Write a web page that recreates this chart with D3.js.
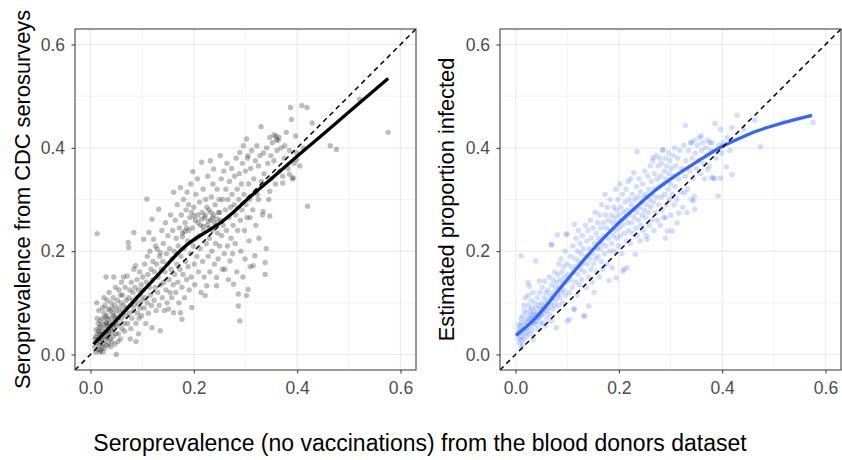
<!DOCTYPE html>
<html><head><meta charset="utf-8">
<script src="https://cdn.jsdelivr.net/npm/d3@7"></script>
<style>body{margin:0;background:#fff} text{font-family:"Liberation Sans",Arial,sans-serif}</style>
</head><body><svg id="c" width="842" height="460"></svg>
<script>
const tickValues=[0,0.2,0.4,0.6];
const tickLabels=["0.0","0.2","0.4","0.6"];
const minorTicks=[0.1,0.3,0.5];
const yTitles=["Seroprevalence from CDC serosurveys","Estimated proportion infected"];
const xTitle="Seroprevalence (no vaccinations) from the blood donors dataset";

const cdcPoints=[
[0.008,0.015],[0.010,0.005],[0.012,0.022],[0.010,0.035],[0.014,0.028],[0.015,0.010],[0.016,0.045],[0.018,0.018],[0.018,0.032],[0.020,0.008],[0.012,0.100],[0.013,0.234],[0.015,0.060],[0.017,0.052],[0.019,0.040],[0.020,0.025],[0.011,0.048],[0.013,0.070],[0.016,0.085],[0.019,0.065],[0.009,0.030],[0.020,0.055],[0.014,0.040],[0.018,0.005],
[0.021,0.030],[0.022,0.015],[0.022,0.045],[0.023,0.070],[0.024,0.038],[0.025,0.022],[0.025,0.058],[0.026,0.080],[0.027,0.035],[0.027,0.012],[0.028,0.050],[0.028,0.095],[0.029,0.028],[0.030,0.062],[0.030,0.150],[0.031,0.042],[0.031,0.018],[0.032,0.075],[0.032,0.105],[0.033,0.032],[0.033,0.055],[0.034,0.088],[0.034,0.045],[0.035,0.020],[0.023,0.090],[0.026,0.110],[0.029,0.072],[0.024,0.005],[0.031,0.060],[0.034,0.068],
[0.036,0.040],[0.036,0.120],[0.037,0.060],[0.038,0.030],[0.038,0.085],[0.039,0.050],[0.040,0.100],[0.040,0.070],[0.041,0.025],[0.042,0.045],[0.042,0.090],[0.043,0.060],[0.044,0.035],[0.044,0.110],[0.045,0.150],[0.045,0.075],[0.046,0.050],[0.047,0.020],[0.047,0.095],[0.048,0.065],[0.048,0.130],[0.049,0.040],[0.050,0.000],[0.050,0.085],[0.039,0.015],[0.043,0.080],[0.046,0.058],[0.049,0.072],
[0.051,0.055],[0.052,0.105],[0.053,0.070],[0.054,0.040],[0.055,0.090],[0.055,0.125],[0.056,0.060],[0.057,0.080],[0.058,0.030],[0.059,0.100],[0.060,0.140],[0.060,0.070],[0.061,0.050],[0.062,0.115],[0.063,0.085],[0.064,0.095],[0.065,0.060],[0.066,0.045],[0.067,0.130],[0.068,0.075],[0.069,0.105],[0.070,0.090],[0.053,0.025],[0.058,0.115],[0.064,0.150],
[0.071,0.152],[0.072,0.060],[0.073,0.217],[0.074,0.207],[0.074,0.110],[0.075,0.080],[0.076,0.125],[0.077,0.095],[0.078,0.050],[0.079,0.140],[0.080,0.070],[0.081,0.105],[0.082,0.120],[0.083,0.085],[0.084,0.236],[0.084,0.165],[0.085,0.095],[0.086,0.130],[0.087,0.172],[0.088,0.060],[0.089,0.110],[0.090,0.145],[0.091,0.080],[0.092,0.100],[0.093,0.125],[0.094,0.070],[0.095,0.160],[0.096,0.090],[0.097,0.115],[0.098,0.135],[0.099,0.075],[0.100,0.105],[0.088,0.025],[0.077,0.030],[0.093,0.040],
[0.101,0.150],[0.102,0.125],[0.103,0.223],[0.104,0.090],[0.105,0.175],[0.106,0.110],[0.107,0.060],[0.108,0.140],[0.109,0.301],[0.110,0.190],[0.110,0.100],[0.111,0.155],[0.112,0.080],[0.113,0.236],[0.114,0.130],[0.115,0.200],[0.116,0.115],[0.117,0.165],[0.118,0.095],[0.119,0.262],[0.119,0.052],[0.120,0.145],[0.121,0.180],[0.122,0.223],[0.123,0.105],[0.124,0.160],[0.125,0.130],[0.126,0.210],[0.127,0.085],[0.128,0.175],[0.129,0.204],[0.130,0.120],
[0.131,0.150],[0.132,0.281],[0.133,0.095],[0.134,0.190],[0.135,0.197],[0.135,0.046],[0.136,0.135],[0.137,0.165],[0.138,0.240],[0.139,0.110],[0.140,0.180],[0.141,0.215],[0.142,0.140],[0.143,0.085],[0.144,0.160],[0.145,0.255],[0.146,0.125],[0.147,0.195],[0.148,0.100],[0.149,0.175],[0.150,0.230],[0.151,0.088],[0.152,0.145],[0.153,0.205],[0.154,0.120],[0.155,0.270],[0.156,0.165],[0.157,0.110],[0.158,0.185],[0.159,0.240],[0.160,0.135],
[0.161,0.314],[0.161,0.081],[0.162,0.200],[0.163,0.155],[0.164,0.260],[0.165,0.120],[0.166,0.225],[0.167,0.175],[0.168,0.290],[0.169,0.140],[0.170,0.210],[0.171,0.100],[0.172,0.245],[0.173,0.165],[0.174,0.323],[0.174,0.081],[0.175,0.190],[0.176,0.270],[0.177,0.068],[0.177,0.130],[0.178,0.235],[0.179,0.155],[0.180,0.300],[0.181,0.205],[0.182,0.110],[0.183,0.255],[0.184,0.180],[0.185,0.280],[0.186,0.145],[0.187,0.314],[0.188,0.220],[0.189,0.170],[0.190,0.240],
[0.191,0.125],[0.192,0.265],[0.193,0.195],[0.194,0.330],[0.195,0.150],[0.196,0.091],[0.197,0.245],[0.198,0.354],[0.199,0.210],[0.200,0.285],[0.201,0.175],[0.202,0.135],[0.203,0.260],[0.204,0.310],[0.205,0.225],[0.206,0.190],[0.207,0.340],[0.208,0.270],[0.209,0.160],[0.210,0.230],[0.211,0.295],[0.212,0.205],[0.213,0.250],[0.214,0.120],[0.215,0.372],[0.216,0.275],[0.217,0.180],[0.218,0.320],[0.219,0.240],[0.220,0.150],
[0.221,0.265],[0.222,0.114],[0.223,0.300],[0.224,0.215],[0.225,0.133],[0.226,0.250],[0.227,0.345],[0.228,0.190],[0.229,0.280],[0.230,0.225],[0.231,0.160],[0.232,0.375],[0.233,0.260],[0.234,0.305],[0.235,0.200],[0.236,0.240],[0.237,0.330],[0.238,0.359],[0.239,0.270],[0.240,0.175],[0.241,0.290],[0.242,0.215],[0.243,0.250],[0.244,0.149],[0.244,0.133],[0.245,0.320],[0.246,0.235],[0.247,0.185],[0.248,0.275],[0.249,0.300],[0.250,0.210],
[0.251,0.385],[0.252,0.260],[0.253,0.340],[0.254,0.230],[0.255,0.165],[0.256,0.300],[0.257,0.250],[0.258,0.355],[0.259,0.195],[0.260,0.165],[0.261,0.280],[0.262,0.320],[0.263,0.240],[0.264,0.370],[0.265,0.210],[0.266,0.300],[0.267,0.145],[0.268,0.265],[0.269,0.335],[0.270,0.181],[0.271,0.285],[0.272,0.225],[0.273,0.360],[0.274,0.310],[0.275,0.195],[0.276,0.250],[0.277,0.136],[0.278,0.290],[0.279,0.345],[0.280,0.215],
[0.281,0.270],[0.282,0.380],[0.283,0.160],[0.284,0.320],[0.285,0.240],[0.286,0.094],[0.286,0.117],[0.287,0.300],[0.288,0.350],[0.289,0.065],[0.289,0.391],[0.290,0.260],[0.291,0.200],[0.292,0.330],[0.293,0.280],[0.294,0.370],[0.295,0.150],[0.296,0.404],[0.297,0.310],[0.298,0.240],[0.299,0.185],[0.300,0.355],[0.301,0.290],[0.302,0.417],[0.302,0.114],[0.303,0.265],[0.304,0.380],[0.305,0.385],[0.305,0.126],[0.306,0.330],[0.307,0.220],[0.308,0.300],[0.309,0.170],[0.310,0.360],
[0.312,0.395],[0.314,0.280],[0.315,0.172],[0.316,0.340],[0.318,0.191],[0.319,0.375],[0.320,0.250],[0.322,0.404],[0.323,0.310],[0.325,0.365],[0.326,0.225],[0.328,0.385],[0.330,0.441],[0.331,0.335],[0.333,0.270],[0.335,0.390],[0.336,0.350],[0.338,0.155],[0.338,0.178],[0.340,0.205],[0.341,0.400],[0.343,0.370],[0.345,0.300],[0.347,0.420],[0.349,0.385],[0.350,0.340],
[0.352,0.410],[0.355,0.375],[0.358,0.330],[0.359,0.423],[0.361,0.395],[0.363,0.414],[0.366,0.355],[0.369,0.400],[0.372,0.345],[0.375,0.380],[0.376,0.404],[0.379,0.430],[0.382,0.360],[0.385,0.395],[0.387,0.478],[0.389,0.455],[0.391,0.340],[0.394,0.370],[0.397,0.423],[0.399,0.390],
[0.409,0.482],[0.419,0.478],[0.420,0.287],[0.429,0.448],[0.464,0.404],[0.476,0.397],[0.521,0.494],[0.576,0.430],[0.360,0.416],[0.365,0.420],[0.355,0.425],[0.399,0.377],[0.392,0.342],[0.372,0.332],[0.347,0.316],[0.385,0.349],[0.325,0.300],[0.334,0.277],[0.347,0.268],[0.309,0.265],[0.412,0.400],[0.405,0.365],
[0.215,0.262],[0.222,0.270],[0.228,0.258],[0.233,0.275],[0.236,0.265],[0.240,0.255],[0.225,0.285],[0.218,0.248],[0.230,0.245],[0.208,0.255],[0.245,0.262],[0.250,0.275],[0.195,0.275],[0.200,0.268],[0.190,0.290],[0.182,0.238],[0.178,0.228],[0.186,0.245]
];

const estPoints=[
[0.005,0.040],[0.006,0.030],[0.007,0.048],[0.008,0.022],[0.009,0.055],[0.010,0.035],[0.011,0.013],[0.011,0.191],[0.012,0.062],[0.013,0.042],[0.014,0.019],[0.014,0.075],[0.015,0.050],[0.016,0.030],[0.017,0.085],[0.018,0.058],[0.019,0.040],[0.020,0.068],[0.008,0.045],[0.012,0.028],[0.016,0.095],[0.019,0.110],[0.010,0.070],[0.006,0.058],
[0.021,0.050],[0.022,0.035],[0.022,0.080],[0.023,0.062],[0.024,0.139],[0.024,0.045],[0.025,0.095],[0.026,0.070],[0.027,0.132],[0.027,0.055],[0.028,0.085],[0.029,0.040],[0.030,0.075],[0.030,0.105],[0.031,0.060],[0.032,0.090],[0.033,0.048],[0.034,0.029],[0.034,0.120],[0.035,0.070],[0.036,0.082],[0.037,0.100],[0.038,0.058],[0.039,0.181],[0.039,0.075],[0.040,0.090],[0.025,0.115],[0.029,0.068],[0.033,0.078],[0.036,0.062],
[0.041,0.065],[0.042,0.110],[0.043,0.080],[0.044,0.050],[0.045,0.095],[0.046,0.142],[0.046,0.072],[0.047,0.120],[0.048,0.060],[0.049,0.088],[0.050,0.100],[0.051,0.075],[0.052,0.130],[0.053,0.062],[0.054,0.092],[0.055,0.110],[0.056,0.142],[0.056,0.080],[0.057,0.055],[0.058,0.098],[0.059,0.120],[0.060,0.085],[0.044,0.070],[0.048,0.078],[0.052,0.085],
[0.061,0.070],[0.062,0.105],[0.063,0.125],[0.064,0.090],[0.065,0.150],[0.066,0.078],[0.067,0.115],[0.068,0.098],[0.069,0.213],[0.070,0.135],[0.070,0.065],[0.071,0.108],[0.072,0.088],[0.073,0.145],[0.074,0.120],[0.075,0.095],[0.076,0.160],[0.077,0.130],[0.078,0.105],[0.079,0.052],[0.080,0.140],[0.070,0.212],
[0.081,0.232],[0.081,0.115],[0.082,0.155],[0.083,0.095],[0.084,0.175],[0.085,0.130],[0.086,0.110],[0.087,0.145],[0.088,0.185],[0.089,0.120],[0.090,0.160],[0.091,0.100],[0.092,0.138],[0.093,0.170],[0.094,0.125],[0.095,0.150],[0.096,0.200],[0.097,0.115],[0.098,0.232],[0.099,0.140],[0.100,0.065],[0.100,0.234],[0.100,0.175],
[0.102,0.155],[0.104,0.120],[0.105,0.068],[0.106,0.190],[0.107,0.145],[0.108,0.170],[0.110,0.130],[0.111,0.210],[0.112,0.160],[0.113,0.088],[0.114,0.087],[0.114,0.252],[0.115,0.185],[0.116,0.140],[0.117,0.225],[0.118,0.170],[0.119,0.115],[0.120,0.200],[0.121,0.155],[0.122,0.240],[0.123,0.180],[0.124,0.135],[0.125,0.215],[0.126,0.165],[0.127,0.195],[0.128,0.145],[0.129,0.230],[0.130,0.175],[0.132,0.075],[0.134,0.074],
[0.131,0.205],[0.133,0.160],[0.135,0.250],[0.136,0.190],[0.137,0.130],[0.138,0.220],[0.139,0.175],[0.140,0.240],[0.141,0.150],[0.142,0.094],[0.143,0.205],[0.144,0.185],[0.145,0.260],[0.146,0.165],[0.147,0.225],[0.148,0.140],[0.149,0.195],[0.150,0.245],[0.151,0.175],[0.152,0.120],[0.153,0.215],[0.154,0.275],[0.155,0.185],[0.156,0.235],[0.157,0.160],[0.158,0.205],[0.159,0.255],[0.160,0.190],
[0.161,0.225],[0.162,0.150],[0.163,0.270],[0.164,0.205],[0.165,0.245],[0.166,0.180],[0.167,0.290],[0.168,0.215],[0.169,0.165],[0.170,0.255],[0.171,0.230],[0.172,0.195],[0.173,0.310],[0.174,0.270],[0.175,0.210],[0.176,0.245],[0.177,0.175],[0.178,0.285],[0.179,0.225],[0.180,0.260],[0.181,0.143],[0.182,0.200],[0.183,0.300],[0.184,0.240],[0.185,0.270],[0.186,0.215],[0.187,0.168],[0.188,0.255],[0.189,0.230],[0.190,0.285],
[0.191,0.200],[0.192,0.265],[0.193,0.240],[0.194,0.320],[0.195,0.148],[0.195,0.280],[0.196,0.225],[0.197,0.255],[0.198,0.300],[0.199,0.210],[0.200,0.270],[0.201,0.245],[0.202,0.330],[0.203,0.230],[0.204,0.285],[0.205,0.260],[0.206,0.195],[0.207,0.310],[0.208,0.161],[0.208,0.250],[0.209,0.275],[0.210,0.165],[0.211,0.235],[0.212,0.295],[0.213,0.265],[0.214,0.320],[0.215,0.220],[0.216,0.168],[0.216,0.280],[0.217,0.255],[0.218,0.335],[0.219,0.240],[0.220,0.300],
[0.221,0.270],[0.222,0.215],[0.223,0.340],[0.224,0.290],[0.225,0.255],[0.226,0.310],[0.227,0.235],[0.228,0.280],[0.229,0.352],[0.230,0.265],[0.231,0.300],[0.232,0.194],[0.233,0.245],[0.234,0.325],[0.235,0.393],[0.235,0.275],[0.236,0.230],[0.237,0.305],[0.238,0.260],[0.239,0.340],[0.240,0.285],[0.241,0.220],[0.242,0.315],[0.243,0.250],[0.244,0.295],[0.245,0.270],[0.246,0.330],[0.247,0.240],[0.248,0.305],[0.249,0.280],[0.250,0.355],
[0.251,0.265],[0.252,0.310],[0.253,0.230],[0.254,0.290],[0.255,0.223],[0.256,0.345],[0.257,0.275],[0.258,0.320],[0.259,0.250],[0.260,0.300],[0.261,0.365],[0.262,0.285],[0.263,0.335],[0.264,0.260],[0.265,0.310],[0.266,0.375],[0.267,0.295],[0.268,0.240],[0.269,0.350],[0.270,0.320],[0.271,0.275],[0.272,0.385],[0.273,0.305],[0.274,0.340],[0.275,0.260],[0.276,0.365],[0.277,0.290],[0.278,0.325],[0.279,0.380],[0.280,0.250],
[0.281,0.345],[0.282,0.305],[0.283,0.370],[0.284,0.280],[0.285,0.395],[0.286,0.330],[0.287,0.265],[0.288,0.355],[0.289,0.310],[0.290,0.225],[0.290,0.380],[0.291,0.340],[0.292,0.290],[0.293,0.365],[0.294,0.239],[0.295,0.320],[0.296,0.390],[0.297,0.350],[0.298,0.300],[0.299,0.375],[0.300,0.330],[0.301,0.270],[0.302,0.360],[0.303,0.239],[0.304,0.310],[0.305,0.385],[0.306,0.345],[0.307,0.290],[0.308,0.400],[0.309,0.325],[0.310,0.365],
[0.312,0.300],[0.313,0.255],[0.314,0.380],[0.316,0.340],[0.318,0.395],[0.320,0.315],[0.322,0.360],[0.324,0.285],[0.326,0.405],[0.328,0.345],[0.329,0.443],[0.330,0.375],[0.332,0.275],[0.333,0.320],[0.335,0.395],[0.337,0.355],[0.339,0.410],[0.340,0.300],[0.342,0.380],[0.344,0.340],[0.345,0.297],[0.346,0.415],[0.347,0.281],[0.348,0.390],[0.350,0.360],
[0.352,0.405],[0.354,0.375],[0.356,0.420],[0.358,0.350],[0.360,0.395],[0.362,0.410],[0.364,0.370],[0.366,0.340],[0.368,0.400],[0.370,0.385],[0.372,0.415],[0.375,0.365],[0.378,0.395],[0.380,0.410],[0.383,0.342],[0.386,0.447],[0.388,0.380],[0.392,0.307],[0.394,0.405],[0.397,0.341],[0.397,0.436],[0.399,0.390],
[0.408,0.363],[0.410,0.420],[0.419,0.348],[0.419,0.439],[0.429,0.463],[0.442,0.436],[0.463,0.454],[0.474,0.402],[0.520,0.450],[0.576,0.449],[0.402,0.410],[0.415,0.395],
[0.360,0.423],[0.376,0.410],[0.341,0.410],[0.285,0.397],[0.266,0.381],[0.316,0.274],[0.291,0.265],[0.346,0.306],[0.327,0.313],[0.372,0.358],[0.385,0.340],[0.379,0.342]
];

const cdcSmoothX=[0.006,0.040,0.071,0.100,0.135,0.167,0.190,0.206,0.225,0.250,0.277,0.302,0.330,0.360,0.405,0.457,0.508,0.576];
const cdcSmoothY=[0.020,0.056,0.089,0.121,0.159,0.194,0.215,0.226,0.238,0.254,0.276,0.299,0.323,0.349,0.388,0.432,0.476,0.534];
const estSmoothX=[0.001,0.020,0.040,0.060,0.079,0.117,0.156,0.195,0.235,0.272,0.305,0.337,0.370,0.401,0.435,0.466,0.520,0.574];
const estSmoothY=[0.037,0.053,0.072,0.095,0.119,0.165,0.210,0.250,0.287,0.319,0.343,0.364,0.385,0.403,0.419,0.432,0.449,0.463];

const svg=d3.select("#c");
const domain=[-0.03,0.63];
const pTop=29,pBottom=370;
const panels=[
 {x0:75,x1:416,pts:cdcPoints,sx:cdcSmoothX,sy:cdcSmoothY,ptColor:"#000000",ptOp:0.26,lineColor:"#000000",title:yTitles[0],titleX:30},
 {x0:500,x1:841,pts:estPoints,sx:estSmoothX,sy:estSmoothY,ptColor:"#3366FF",ptOp:0.22,lineColor:"#3366FF",title:yTitles[1],titleX:454}
];
panels.forEach((p,i)=>{
  const x=d3.scaleLinear().domain(domain).range([p.x0,p.x1]);
  const y=d3.scaleLinear().domain(domain).range([pBottom,pTop]);
  const g=svg.append("g");
  g.append("rect").attr("x",p.x0).attr("y",pTop).attr("width",p.x1-p.x0).attr("height",pBottom-pTop).attr("fill","#fff");
  const clipId="clip"+i;
  svg.append("clipPath").attr("id",clipId).append("rect").attr("x",p.x0).attr("y",pTop).attr("width",p.x1-p.x0).attr("height",pBottom-pTop);
  const inner=g.append("g").attr("clip-path",`url(#${clipId})`);
  minorTicks.forEach(v=>{
    inner.append("line").attr("x1",x(v)).attr("x2",x(v)).attr("y1",pTop).attr("y2",pBottom).attr("stroke","#EBEBEB").attr("stroke-width",0.6);
    inner.append("line").attr("y1",y(v)).attr("y2",y(v)).attr("x1",p.x0).attr("x2",p.x1).attr("stroke","#EBEBEB").attr("stroke-width",0.6);
  });
  tickValues.forEach(v=>{
    inner.append("line").attr("x1",x(v)).attr("x2",x(v)).attr("y1",pTop).attr("y2",pBottom).attr("stroke","#EBEBEB").attr("stroke-width",1.2);
    inner.append("line").attr("y1",y(v)).attr("y2",y(v)).attr("x1",p.x0).attr("x2",p.x1).attr("stroke","#EBEBEB").attr("stroke-width",1.2);
  });
  inner.selectAll("circle.pt").data(p.pts).join("circle").attr("class","pt")
    .attr("cx",d=>x(d[0])).attr("cy",d=>y(d[1])).attr("r",2.7)
    .attr("fill",p.ptColor).attr("fill-opacity",p.ptOp);
  const sm=p.sx.map((v,k)=>[v,p.sy[k]]);
  const lineGen=d3.line().x(d=>x(d[0])).y(d=>y(d[1])).curve(d3.curveCatmullRom.alpha(0.5));
  inner.append("path").datum(sm).attr("fill","none").attr("stroke",p.lineColor).attr("stroke-width",3.3).attr("d",lineGen);
  inner.append("path").datum(domain).attr("fill","none").attr("stroke","#000").attr("stroke-width",1.5).attr("stroke-dasharray","5,4")
    .attr("d",d=>`M${x(d[0])},${y(d[0])}L${x(d[1])},${y(d[1])}`);
  g.append("rect").attr("x",p.x0).attr("y",pTop).attr("width",p.x1-p.x0).attr("height",pBottom-pTop).attr("fill","none").attr("stroke","#333333").attr("stroke-width",1);
  const xa=g.append("g").attr("transform",`translate(0,${pBottom})`)
    .call(d3.axisBottom(x).tickValues(tickValues).tickFormat((d,k)=>tickLabels[k]).tickSize(3.5).tickPadding(8));
  const ya=g.append("g").attr("transform",`translate(${p.x0},0)`)
    .call(d3.axisLeft(y).tickValues(tickValues).tickFormat((d,k)=>tickLabels[k]).tickSize(3.5).tickPadding(6.5));
  [xa,ya].forEach(a=>{
    a.select(".domain").remove();
    a.selectAll(".tick line").attr("stroke","#333333").attr("stroke-width",1);
    a.selectAll(".tick text").attr("fill","#4D4D4D").style("font-size","17.5px").style("font-family","'Liberation Sans',Arial,sans-serif");
  });
  svg.append("text").attr("transform",`translate(${p.titleX},${(pTop+pBottom)/2}) rotate(-90)`)
    .attr("text-anchor","middle").attr("fill","#000").style("font-size","21.8px").text(p.title);
});
svg.append("text").attr("x",420).attr("y",451).attr("text-anchor","middle").attr("fill","#000").style("font-size","23px").text(xTitle);
</script></body></html>
